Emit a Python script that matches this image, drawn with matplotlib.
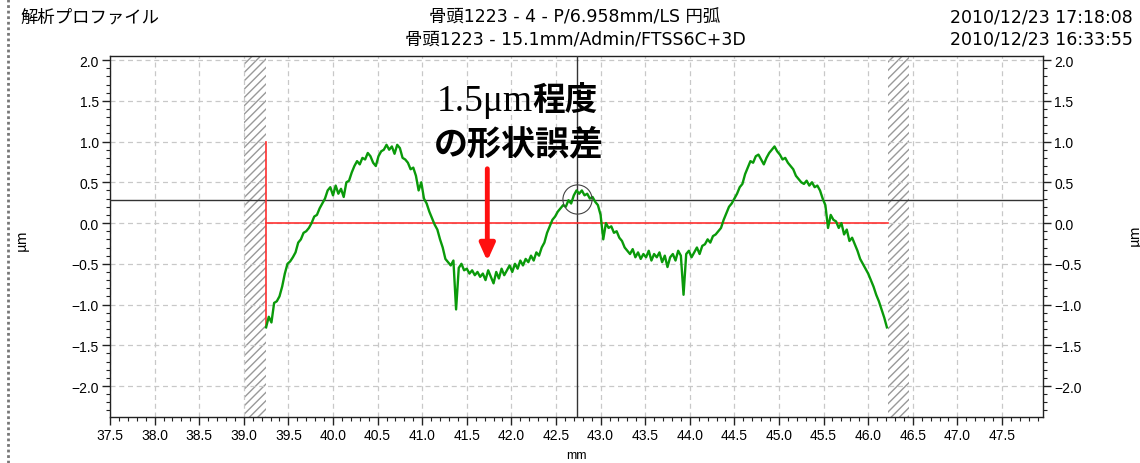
import numpy as np
import matplotlib
matplotlib.use("Agg")
import matplotlib.pyplot as plt
from matplotlib.ticker import MultipleLocator
from matplotlib.lines import Line2D

# 形状プロファイル (mm, μm)
x_start, x_end = 39.25, 46.21
profile = [
    -1.28, -1.15, -1.22, -0.98, -0.96, -0.90, -0.78, -0.62, -0.50, -0.47,
    -0.42, -0.36, -0.24, -0.20, -0.12, -0.10, -0.06, 0.00, 0.08, 0.10,
    0.18, 0.24, 0.30, 0.40, 0.44, 0.34, 0.46, 0.36, 0.42, 0.32,
    0.50, 0.52, 0.62, 0.70, 0.76, 0.72, 0.80, 0.78, 0.86, 0.82,
    0.74, 0.70, 0.82, 0.88, 0.90, 0.96, 0.90, 0.94, 0.85, 0.96,
    0.92, 0.80, 0.78, 0.74, 0.66, 0.68, 0.58, 0.40, 0.50, 0.30,
    0.24, 0.14, 0.06, -0.02, -0.08, -0.20, -0.30, -0.44, -0.48, -0.52,
    -0.46, -1.06, -0.55, -0.50, -0.58, -0.56, -0.62, -0.58, -0.64, -0.60,
    -0.66, -0.62, -0.70, -0.58, -0.66, -0.74, -0.60, -0.68, -0.56, -0.64,
    -0.58, -0.52, -0.60, -0.50, -0.56, -0.46, -0.52, -0.44, -0.48, -0.40,
    -0.46, -0.36, -0.40, -0.30, -0.24, -0.12, -0.04, 0.04, 0.08, 0.14,
    0.18, 0.22, 0.20, 0.28, 0.24, 0.34, 0.40, 0.36, 0.40, 0.34,
    0.36, 0.30, 0.32, 0.26, 0.22, 0.10, -0.20, 0.00, -0.06, -0.04,
    -0.12, -0.10, -0.18, -0.22, -0.30, -0.34, -0.38, -0.32, -0.42, -0.36,
    -0.44, -0.38, -0.42, -0.34, -0.46, -0.38, -0.42, -0.36, -0.48, -0.40,
    -0.54, -0.42, -0.38, -0.46, -0.34, -0.40, -0.88, -0.38, -0.34, -0.42,
    -0.36, -0.30, -0.38, -0.28, -0.26, -0.20, -0.24, -0.16, -0.14, -0.10,
    -0.06, 0.04, 0.12, 0.20, 0.24, 0.30, 0.36, 0.44, 0.48, 0.60,
    0.68, 0.76, 0.74, 0.82, 0.84, 0.78, 0.72, 0.80, 0.86, 0.90,
    0.94, 0.88, 0.84, 0.78, 0.80, 0.74, 0.70, 0.66, 0.58, 0.54,
    0.50, 0.48, 0.52, 0.46, 0.50, 0.44, 0.46, 0.40, 0.30, 0.22,
    -0.06, 0.10, 0.04, 0.02, -0.06, 0.00, -0.14, -0.08, -0.22, -0.18,
    -0.26, -0.34, -0.44, -0.50, -0.56, -0.62, -0.70, -0.78, -0.88, -0.96,
    -1.06, -1.16, -1.28,
]

# 解析範囲 (斜線部)
mask_left = (39.0, 39.25)
mask_right = (46.22, 46.46)
ref_y = 0.28        # 基準線
cursor_x = 42.73    # カーソル
cursor_y = 0.30
arrow_x, arrow_top, arrow_tip = 41.73, 0.70, -0.50

title_left = "解析プロファイル"
title_mid = ["骨頭1223 - 4 - P/6.958mm/LS 円弧", "骨頭1223 - 15.1mm/Admin/FTSS6C+3D"]
title_right = ["2010/12/23 17:18:08", "2010/12/23 16:33:55"]

plt.rcParams['font.family'] = ['Liberation Sans', 'Noto Sans CJK JP']
jp = ['Noto Sans CJK JP', 'DejaVu Sans']
head = ['DejaVu Sans', 'Noto Sans CJK JP']

fig = plt.figure(figsize=(11.4, 4.64), dpi=100)
ax = fig.add_axes([110 / 1140, 46 / 464, 933 / 1140, 361 / 464])

x = np.linspace(x_start, x_end, len(profile))

ax.set_xlim(37.5, 47.96)
ax.set_ylim(-2.38, 2.05)

# 斜線部
for a, b in (mask_left, mask_right):
    ax.axvspan(a, b, facecolor='white', edgecolor='#999999', hatch='////', lw=0, zorder=1)

ax.grid(True, which='major', linestyle=(0, (4, 3)), color='#c8c8c8', lw=0.9, zorder=0)

# 基準線
ax.axhline(ref_y, color='#333333', lw=1.0, zorder=3)
ax.axvline(cursor_x, color='#333333', lw=1.0, zorder=3)
ax.plot([x_start, x_start], [1.0, profile[0]], color='#ff3030', lw=1.2, zorder=3)
ax.plot([x_start, mask_right[0]], [0, 0], color='#ff3030', lw=1.2, zorder=3)

ax.plot(x, profile, color='#0a9a0a', lw=1.7, zorder=4)

ax.plot([cursor_x], [cursor_y], marker='o', ms=21, mfc='none', mec='#444444', mew=0.8, zorder=5)

# 矢印
ax.annotate('', xy=(arrow_x, arrow_tip), xytext=(arrow_x, arrow_top),
            arrowprops=dict(arrowstyle='-|>,head_width=0.45,head_length=1.0', color='#ff1010', lw=3.5),
            zorder=6)
ax.text(42.24, 1.50, "1.5μm", ha='right', va='center', fontsize=27,
        family=['Liberation Serif'], zorder=6)
ax.text(42.24, 1.50, "程度", ha='left', va='center', fontsize=23.5,
        family=jp, fontweight='bold', zorder=6)
ax.text(42.08, 0.98, "の形状誤差", ha='center', va='center', fontsize=24.5,
        family=jp, fontweight='bold', zorder=6)

# 軸
ax.xaxis.set_major_locator(MultipleLocator(0.5))
ax.xaxis.set_minor_locator(MultipleLocator(0.1))
ax.yaxis.set_major_locator(MultipleLocator(0.5))
ax.yaxis.set_minor_locator(MultipleLocator(0.1))
ax.xaxis.set_major_formatter(lambda v, p: f"{v:.1f}" if v <= 47.6 else "")
ax.yaxis.set_major_formatter(lambda v, p: f"{v:.1f}".replace('-', '\u2212'))
ax.tick_params(which='both', direction='out', right=True, labelright=True, top=False, labelsize=10,
               color='#222222', pad=2)
ax.tick_params(which='major', length=6, width=1)
ax.tick_params(which='minor', length=3, width=0.8)
for s in ax.spines.values():
    s.set_color('#222222')
    s.set_linewidth(1.0)

ax.set_xlabel("mm", fontsize=9, labelpad=5)
fig.text(22 / 1140, 1 - 240 / 464, "μm", rotation=90, ha='center', va='center', fontsize=10, family=jp)
fig.text(1128 / 1140, 1 - 235 / 464, "μm", rotation=90, ha='left', va='center', fontsize=10, family=jp)

# タイトル
fig.text(20 / 1140, 1 - 18 / 464, title_left, ha='left', va='center', fontsize=12.5, family=jp)
fig.text(575 / 1140, 1 - 17 / 464, title_mid[0], ha='center', va='center', fontsize=12.5, family=head)
fig.text(575 / 1140, 1 - 40 / 464, title_mid[1], ha='center', va='center', fontsize=12.5, family=head)
fig.text(950 / 1140, 1 - 17 / 464, title_right[0], ha='left', va='center', fontsize=12.5, family=head)
fig.text(950 / 1140, 1 - 40 / 464, title_right[1], ha='left', va='center', fontsize=12.5, family=head)

# 左端の綴じ線
fig.add_artist(Line2D([8 / 1140, 8 / 1140], [0, 1], color='#777777', lw=2.0, linestyle=(0, (1, 1))))

fig.savefig("out.png", dpi=100)
